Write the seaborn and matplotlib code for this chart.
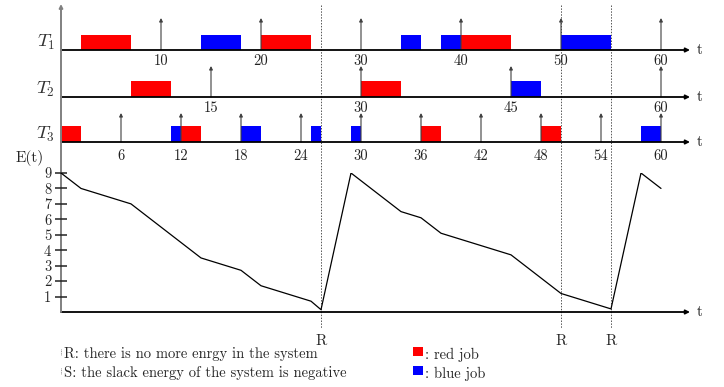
import matplotlib
matplotlib.use("Agg")
import matplotlib.pyplot as plt
import seaborn as sns
import pandas as pd

# ---------------- data ----------------
# jobs per task: (start, end, colour-name)
t1_jobs = [(2, 7, "red"), (14, 18, "blue"), (20, 25, "red"), (34, 36, "blue"),
           (38, 40, "blue"), (40, 45, "red"), (50, 55, "blue")]
t2_jobs = [(7, 11, "red"), (30, 34, "red"), (45, 48, "blue")]
t3_jobs = [(0, 2, "red"), (11, 12, "blue"), (12, 14, "red"), (18, 20, "blue"),
           (25, 26, "blue"), (29, 30, "blue"), (36, 38, "red"), (48, 50, "red"),
           (58, 60, "blue")]
t1_ticks = [10, 20, 30, 40, 50, 60]
t2_ticks = [15, 30, 45, 60]
t3_ticks = [6, 12, 18, 24, 30, 36, 42, 48, 54, 60]
task_labels = [r"$T_1$", r"$T_2$", r"$T_3$"]

energy_t = [0, 2, 7, 14, 18, 20, 25, 26, 29, 34, 36, 38, 45, 50, 55, 58, 60]
energy_v = [9, 8, 7, 3.5, 2.7, 1.7, 0.7, 0.15, 9, 6.5, 6.1, 5.1, 3.7, 1.2, 0.2, 9, 8]
energy_ticks = [1, 2, 3, 4, 5, 6, 7, 8, 9]
r_times = [26, 50, 55]

legend_notes = ["R: there is no more enrgy in the system",
                "S: the slack energy of the system is negative"]
legend_jobs = [("red", ": red job"), ("blue", ": blue job")]

colors = {"red": "#ff0000", "blue": "#0000ff"}

# ---------------- style ----------------
sns.set_theme(style="white")
plt.rcParams["font.family"] = ["cmr10", "DejaVu Serif"]
plt.rcParams["mathtext.fontset"] = "cm"
plt.rcParams["axes.formatter.use_mathtext"] = True

W, H = 724, 387
fig = plt.figure(figsize=(W / 100, H / 100), dpi=100)
fig.patch.set_facecolor("white")

# pixel -> t mapping: t=0 at x=61 px, 10 px per unit
X0, PXU = 61.0, 10.0
xlim = (-X0 / PXU, (W - X0) / PXU)
t_end = (690 - X0) / PXU

ax = fig.add_axes([0, 0, 1, 1])
ax.set_xlim(*xlim)
ax.set_ylim(H, 0)
ax.axis("off")

# energy axes: E=0 at y=312 px, E=9 at y=173 px
y_e0, y_e9 = 312, 173
ea = fig.add_axes([0, 1 - y_e0 / H, 1, (y_e0 - y_e9) / H])
ea.set_xlim(*xlim)
ea.set_ylim(0, 9)
ea.patch.set_alpha(0)
for s in ea.spines.values():
    s.set_visible(False)
ea.spines["left"].set_visible(True)
ea.spines["left"].set_color("none")
ea.spines["left"].set_position(("data", 0))

# ---------------- task rows ----------------
rows = [
    dict(jobs=t1_jobs, ticks=t1_ticks, base=50, bar=15, arrow_top=18, lab_y=61),
    dict(jobs=t2_jobs, ticks=t2_ticks, base=97, bar=16, arrow_top=66, lab_y=108),
    dict(jobs=t3_jobs, ticks=t3_ticks, base=142, bar=16, arrow_top=113, lab_y=156),
]
for lab, r in zip(task_labels, rows):
    base = r["base"]
    for (s, e, c) in r["jobs"]:
        ax.bar(s, -r["bar"], width=e - s, bottom=base, align="edge",
               color=colors[c], linewidth=0, zorder=2)
    for t in r["ticks"]:
        ax.annotate("", xy=(t, r["arrow_top"]), xytext=(t, base),
                    arrowprops=dict(arrowstyle="-|>", lw=0.8, color="#404040",
                                    mutation_scale=5, shrinkA=0, shrinkB=0),
                    zorder=3)
        ax.text(t, r["lab_y"], str(t), ha="center", va="center", fontsize=10.5,
                color="#222222")
    ax.annotate("", xy=(t_end, base), xytext=(0, base),
                arrowprops=dict(arrowstyle="-|>", lw=1.3, color="black",
                                mutation_scale=6, shrinkA=0, shrinkB=0), zorder=4)
    ax.text(t_end + 0.7, base, "t", ha="left", va="center", fontsize=11)
    ax.text(-0.6, base - 3, lab, ha="right", va="baseline", fontsize=13.5,
            color="#333333")

# energy baseline
ax.annotate("", xy=(t_end, y_e0), xytext=(0, y_e0),
            arrowprops=dict(arrowstyle="-|>", lw=1.3, color="black",
                            mutation_scale=6, shrinkA=0, shrinkB=0), zorder=4)
ax.text(t_end + 0.7, y_e0, "t", ha="left", va="center", fontsize=11)

# left vertical axis
ax.annotate("", xy=(0, 4), xytext=(0, y_e0),
            arrowprops=dict(arrowstyle="-|>", lw=1.4, color="#808080",
                            mutation_scale=5, shrinkA=0, shrinkB=0), zorder=4)

# R dashed lines
ax.vlines(r_times, 5, 328, colors="#555555", linestyles=(0, (1.5, 1.5)), lw=0.7,
          zorder=1)
for t in r_times:
    ax.text(t, 341, "R", ha="center", va="center", fontsize=11)

# energy curve
df = pd.DataFrame({"t": energy_t, "E": energy_v})
sns.lineplot(data=df, x="t", y="E", ax=ea, color="black", lw=0.9, sort=False)
ea.set_xlabel("")
ea.set_ylabel("")
ea.set_xticks([])
ea.set_yticks(energy_ticks)
ea.set_yticklabels([str(v) for v in energy_ticks])
ea.tick_params(axis="y", direction="inout", length=8, width=1.1, color="#222222",
               pad=3, labelsize=10.5, left=True)
ax.text(-3.1, 158, "E(t)", ha="center", va="center", fontsize=11)

# ---------------- legend / notes ----------------
for i, note in enumerate(legend_notes):
    y = 354 + 19 * i
    ax.text(0.35, y, note, ha="left", va="center", fontsize=10.5)
    ax.vlines(-0.05, y - 5, y + 1, colors="#777777", linestyles=(0, (1, 1)), lw=0.6)
for i, (c, txt) in enumerate(legend_jobs):
    y = 352 + 19 * i
    ax.bar(35.2, 9, width=1.0, bottom=y - 5, align="edge", color=colors[c],
           linewidth=0)
    ax.text(36.4, y + 3, txt, ha="left", va="center", fontsize=10.5)

fig.savefig("out.png", dpi=100)
